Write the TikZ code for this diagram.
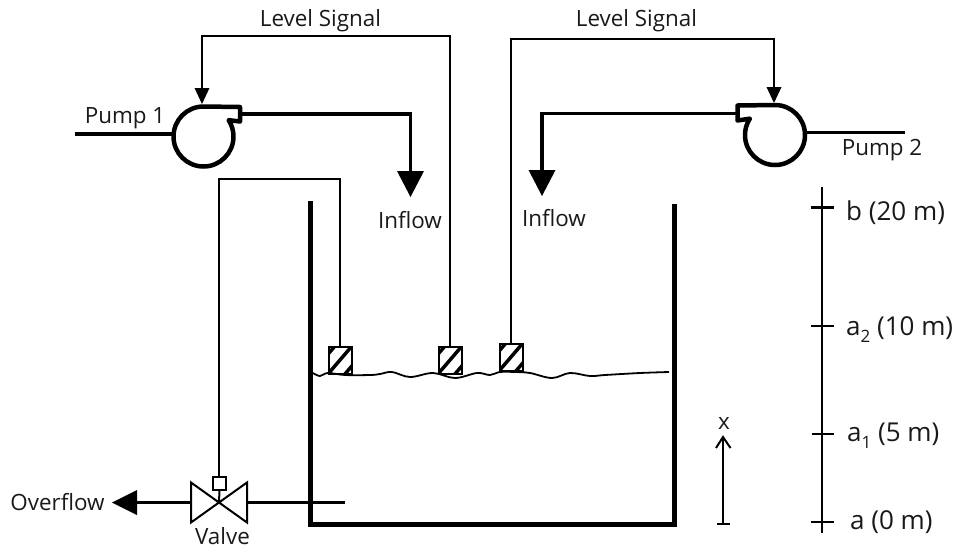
\documentclass[tikz,border=0pt]{standalone}
\usepackage{fontspec}
\setmainfont{Open Sans}
\newcommand{\subidx}[1]{\raisebox{-0.28em}{\fontsize{17}{20}\selectfont #1}}
\tikzset{
  lbl/.style={font=\fontsize{22.4}{26}\selectfont, inner sep=0pt, anchor=base, text=black!90},
  big/.style={lbl, font=\fontsize{26}{30}\selectfont, anchor=base west},
  thinline/.style={line width=2pt},
  medline/.style={line width=3.5pt},
  tankwall/.style={line width=5pt},
  pumpline/.style={line width=4.5pt, line join=round, line cap=round},
  head/.style={fill=black, draw=none},
  pumpnode/.style={circle, minimum size=60pt, inner sep=0pt, outer sep=0pt},
  sensor/.style={draw, line width=2pt, minimum width=23pt, minimum height=27pt, inner sep=0pt, outer sep=0pt, path picture={
    \foreach \d in {-17,0,17} \draw[line width=3.5pt] ([xshift=\d pt-12pt,yshift=-14pt]path picture bounding box.center) -- ++(24pt,28pt);}},
}
\begin{document}
\begin{tikzpicture}[x=1pt,y=-1pt]
\useasboundingbox (0,0) rectangle (954,550);
% tank
\draw[tankwall,line join=miter] (310,201) -- (310,524) -- (677,524);
\draw[tankwall] (674,204) -- (674,524);
% water
\draw[line width=1.8pt] plot[smooth,tension=0.6] coordinates {(313,373) (320,376) (328,373) (345,375) (370,375) (380,374) (392,372) (410,377) (433,373) (455,378) (477,373) (490,375) (500,372) (515,372) (530,373) (552,378) (570,373) (590,376) (605,375) (640,373) (669,372)};
% sensors
\node[sensor] (s1) at (340,360) {};
\node[sensor] (s2) at (450,360) {};
\node[sensor] (s3) at (511,357) {};
% pumps
\node[pumpnode] (p1) at (203.5,136.5) {};
\node[pumpnode] (p2) at (775,135) {};
\coordinate (p1out) at (240,114);
\coordinate (p2out) at (737.5,113.5);
\draw[pumpline] (p1.north) arc[start angle=90,end angle=393,radius=30pt] -- (240,121.5) -- (240,107) -- (p1.north);
\draw[pumpline] (p2.north) arc[start angle=90,end angle=-213,radius=30pt] -- (737.5,120.5) -- (737.5,105.5) -- (p2.north);
% pump lines
\coordinate (p1in) at (75,134);
\coordinate (p2in) at (905,132.5);
\draw[medline] (p1in) -- (p1in -| p1.west);
\draw[medline] (p2in -| p2.east) -- (p2in);
\coordinate (in1) at (410.5,197);
\coordinate (in2) at (542,196);
\draw[medline,line join=miter] (p1out) -| (410.5,172);
\draw[medline,line join=miter] (p2out) -| (542,171);
\path[head] (397,171) -- (424,171) -- (in1) -- cycle;
\path[head] (528.5,170) -- (555.5,170) -- (in2) -- cycle;
% signals
\draw[thinline] (s2.north) |- (202,36) -- (202,90);
\path[head] (194.5,88) -- (209.5,88) -- (202,104) -- cycle;
\draw[thinline] (s3.north) |- (774,39) -- (774,90);
\path[head] (766.5,87) -- (781.5,87) -- (774,103) -- cycle;
% valve
\node[draw,line width=2pt,minimum size=13pt,inner sep=0pt,outer sep=0pt] (vbox) at (219.5,483.5) {};
\coordinate (v) at (219,502.5);
\draw[thinline] (s1.north) |- (219,179) -- (219,477);
\draw[thinline] (vbox.south) -- (v);
\draw[line width=2pt,line join=miter] (v) -- (191,482.5) -- (191,522.5) -- cycle;
\draw[line width=2pt,line join=miter] (v) -- (247,482.5) -- (247,522.5) -- cycle;
\coordinate (vin) at (345,502.5);
\draw[medline] (vin) -- (248,502.5);
\draw[medline] (190,502.5) -- (135,502.5);
\path[head] (137,490) -- (137,515) -- (112,502.5) -- cycle;
% scale
\coordinate (st) at (822,187);
\coordinate (sb) at (822,533);
\draw[line width=2.4pt] (st) -- (sb);
\draw[line width=2.2pt] (810.5,207.5) -- (833.5,207.5);
\draw[line width=2.2pt] (810.5,326) -- (833.5,326);
\draw[line width=2.2pt] (811.5,434) -- (834,434);
\draw[line width=2.2pt] (811,522) -- (833.5,522);
% x arrow
\coordinate (xb) at (723,524);
\coordinate (xt) at (723,437);
\draw[line width=2pt] (xb) -- (xt);
\draw[line width=2pt] (716.5,524) -- (730,524);
\draw[line width=2pt] (716,448) -- (723,437) -- (730.5,448);
% labels
\node[lbl] (t1) at (320.5,26) {Level Signal};
\node[lbl] (t2) at (636.5,26) {Level Signal};
\node[lbl] (t3) at (125,123) {Pump 1};
\node[lbl] (t4) at (882,155) {Pump 2};
\node[lbl] (t5) at (410,228) {Inflow};
\node[lbl] (t6) at (554,226) {Inflow};
\node[lbl] (t7) at (57.5,510) {Overflow};
\node[lbl] (t8) at (222.5,544) {Valve};
\node[lbl] (t9) at (724,429) {x};
\node[big] (t10) at (846,220) {b (20 m)};
\node[big] (t11) at (846,335) {a\subidx{2} (10 m)};
\node[big] (t12) at (847,441) {a\subidx{1} (5 m)};
\node[big] (t13) at (850,529) {a (0 m)};
\end{tikzpicture}
\end{document}
